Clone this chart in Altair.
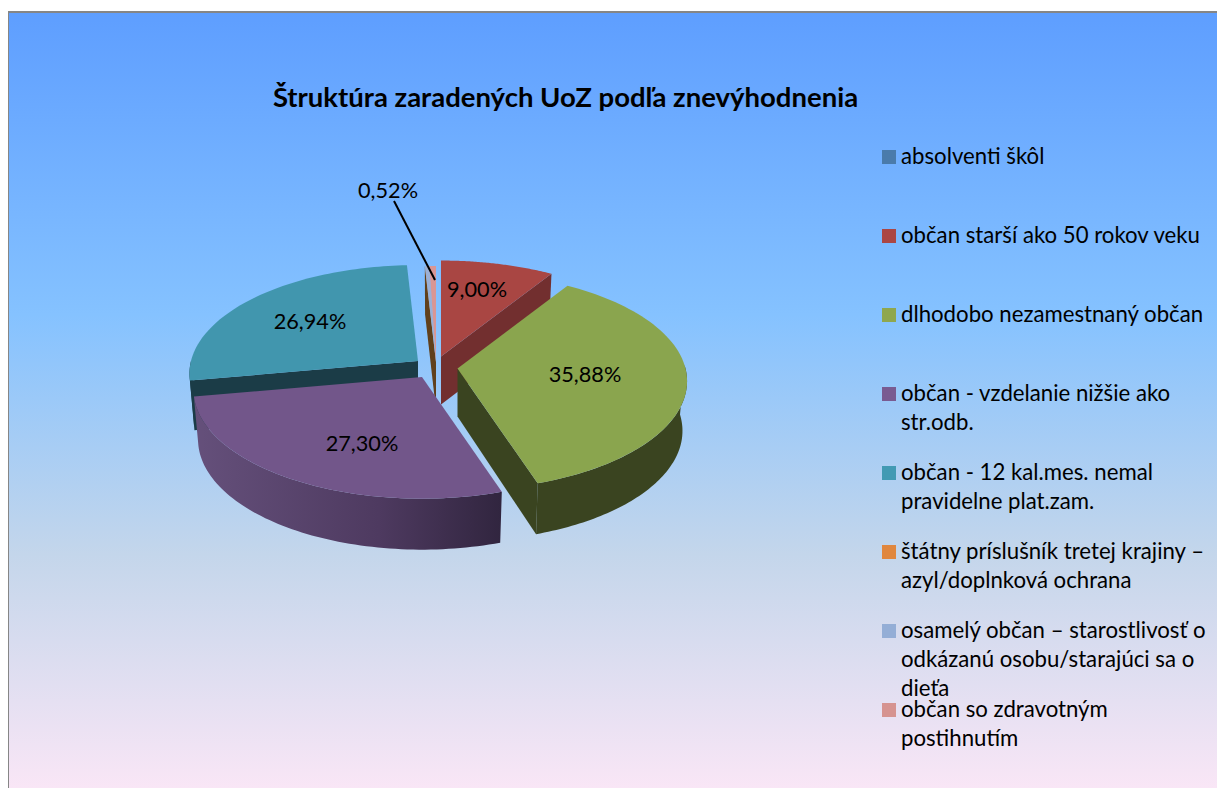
import math
import altair as alt

# ---- values ----
categories = [
    "absolventi škôl",
    "občan starší ako 50 rokov veku",
    "dlhodobo nezamestnaný občan",
    "občan - vzdelanie nižšie ako\nstr.odb.",
    "občan - 12 kal.mes. nemal\npravidelne plat.zam.",
    "štátny príslušník tretej krajiny –\nazyl/doplnková ochrana",
    "osamelý občan – starostlivosť o\nodkázanú osobu/starajúci sa o\ndieťa",
    "občan so zdravotným\npostihnutím",
]
shares = [0.0, 9.00, 35.88, 27.30, 26.94, 0.02, 0.34, 0.52]
value_labels = ["9,00%", "35,88%", "27,30%", "26,94%", "0,52%"]
legend_colors = ["#4a7bab", "#ab4644", "#8fa74e", "#795b91", "#429ab3", "#e0873e", "#94aed6", "#d69390"]
face_colors = ["#4a7ebb", "#a94643", "#8aa54e", "#72568a", "#4196ae", "#d9853b", "#9bb0d6", "#d99694"]
wall_colors = ["#2c4a70", "#722f2f", "#3a4420", "#5f4b73", "#1b3c47", "#60401c", "#60401c", "#8a5a58"]

title_text = "Štruktúra zaradených UoZ podľa znevýhodnenia"
FONT = "Lato"

W, H = 1209, 780
OX, OY = 8, 8   # page margin

# exploded-slice apex of every slice, page pixels
apex = [(441, 356.5), (441, 356.5), (457.5, 368.5), (422, 377), (418, 361), (436, 362), (436, 362), (436, 362)]
radius_x = [229, 229, 228, 227, 227, 229, 229, 229]
RY, PERSP = 108.8, 0.118
DEPTH = 48

cum = [0.0]
for s in shares:
    cum.append(cum[-1] + s)


def rim(i, pct, bottom=False):
    th = math.radians(pct * 3.6)
    s, c = math.sin(th), math.cos(th)
    ax, ay = apex[i]
    dx = radius_x[i] * s * (1 - PERSP * c)
    dy = -RY * c * (1 - PERSP * c)
    if bottom:
        return (ax + dx * 0.98 - OX, ay + dy + DEPTH + 3 * (1 - c) / 2 - OY)
    return (ax + dx - OX, ay + dy - OY)


def sweep(a, b, n=72):
    return [a + (b - a) * k / n for k in range(n + 1)]


def poly(points):
    pts = [list(p) for p in points]
    pts.append(pts[0])
    return {"type": "Feature", "properties": {}, "geometry": {"type": "Polygon", "coordinates": [pts]}}


def ap(i, bottom=False):
    ax, ay = apex[i]
    return (ax - OX, ay - OY + (DEPTH if bottom else 0))


def face(i):
    return poly([ap(i)] + [rim(i, p) for p in sweep(cum[i], cum[i + 1])])


def cut_wall(i, pct):
    return poly([ap(i), rim(i, pct), rim(i, pct, True), ap(i, True)])


def outer_wall(i, a, b):
    ps = sweep(a, b)
    return poly([rim(i, p) for p in ps] + [rim(i, p, True) for p in reversed(ps)])


proj = alt.Projection(type="identity", scale=1, translate=[0, 0])


def shape(feature, fill):
    return (
        alt.Chart(alt.Data(values=[feature]))
        .mark_geoshape(fill=fill, strokeWidth=0)
        .encode(opacity=alt.value(1))
        .project(**proj.to_dict())
    )


bg = alt.Chart(alt.Data(values=[{"a": 1}])).mark_rect(
    fill=alt.LinearGradient(
        gradient="linear", x1=0, x2=0, y1=0, y2=1,
        stops=[
            alt.GradientStop(color="#5E9EFF", offset=0),
            alt.GradientStop(color="#85C2FF", offset=0.39),
            alt.GradientStop(color="#C4D6EB", offset=0.70),
            alt.GradientStop(color="#F9E6F6", offset=1),
        ],
    )
).encode(x=alt.value(0), x2=alt.value(W), y=alt.value(4), y2=alt.value(H))

frame_top = alt.Chart(alt.Data(values=[{"a": 1}])).mark_rule(color="#868686", strokeWidth=2).encode(
    x=alt.value(0), x2=alt.value(W), y=alt.value(4))
frame_left = alt.Chart(alt.Data(values=[{"a": 1}])).mark_rule(color="#868686", strokeWidth=2).encode(
    x=alt.value(0), y=alt.value(3), y2=alt.value(H))

purple_wall_fill = alt.LinearGradient(
    gradient="linear", x1=0, x2=1, y1=0, y2=0,
    stops=[
        alt.GradientStop(color="#65507B", offset=0),
        alt.GradientStop(color="#4E3A60", offset=0.6),
        alt.GradientStop(color="#31253F", offset=1),
    ],
)

layers = [bg, frame_top, frame_left]

# teal
layers += [shape(outer_wall(4, 72.18, 75), wall_colors[4]), shape(cut_wall(4, cum[4]), wall_colors[4]), shape(face(4), face_colors[4])]
# thin slices
layers += [shape(cut_wall(5, cum[5]), wall_colors[5]), shape(face(5), face_colors[5]), shape(face(6), face_colors[6]), shape(face(7), face_colors[7])]
# red
layers += [shape(cut_wall(1, cum[2]), wall_colors[1]), shape(face(1), face_colors[1])]
# purple
layers += [shape(outer_wall(3, cum[3], cum[4]), purple_wall_fill), shape(face(3), face_colors[3])]
# green
layers += [shape(outer_wall(2, 24.5, cum[3]), wall_colors[2]), shape(cut_wall(2, cum[3]), wall_colors[2]), shape(face(2), face_colors[2])]

# leader line of the smallest slice
leader = {"type": "Feature", "properties": {}, "geometry": {"type": "LineString",
          "coordinates": [[394 - OX, 201 - OY], [435 - OX, 280 - OY]]}}
layers.append(
    alt.Chart(alt.Data(values=[leader])).mark_geoshape(filled=False, stroke="#000000", strokeWidth=2)
    .encode(opacity=alt.value(1)).project(**proj.to_dict())
)

# value labels
label_pos = [(477, 290), (585, 375), (362, 444), (310, 322), (388, 191)]
for lab, (lx, ly) in zip(value_labels, label_pos):
    layers.append(
        alt.Chart(alt.Data(values=[{"t": lab}]))
        .mark_text(font=FONT, fontSize=21.7, color="#000000", align="center", baseline="middle")
        .encode(text="t:N", x=alt.value(lx - OX), y=alt.value(ly - OY))
    )

# title
layers.append(
    alt.Chart(alt.Data(values=[{"t": title_text}]))
    .mark_text(font=FONT, fontSize=27.5, fontWeight="bold", color="#000000", align="center", baseline="middle")
    .encode(text="t:N", x=alt.value(565.5 - OX), y=alt.value(99 - OY))
)

# legend built from the categories
legend_rows = [{"category": c} for c in categories]
yenc = alt.Y("category:N", axis=None,
             scale=alt.Scale(type="point", domain=categories, range=[149, 702], padding=0))
layers.append(
    alt.Chart(alt.Data(values=legend_rows))
    .mark_square(size=196, opacity=1)
    .encode(x=alt.value(881), y=yenc,
            color=alt.Color("category:N", legend=None, scale=alt.Scale(domain=categories, range=legend_colors)))
)
layers.append(
    alt.Chart(alt.Data(values=legend_rows))
    .mark_text(font=FONT, fontSize=22.2, color="#000000", align="left", baseline="middle",
               lineBreak="\n", lineHeight=29)
    .encode(text="category:N", x=alt.value(893), y=yenc)
)

chart = (
    alt.layer(*layers)
    .resolve_scale(color="independent", y="shared")
    .properties(width=W, height=H, padding=0, background="#ffffff",
                autosize=alt.AutoSizeParams(type="none"))
    .configure_view(strokeWidth=0)
)

chart.save("out.html", embed_options={"renderer": "svg", "actions": False})
